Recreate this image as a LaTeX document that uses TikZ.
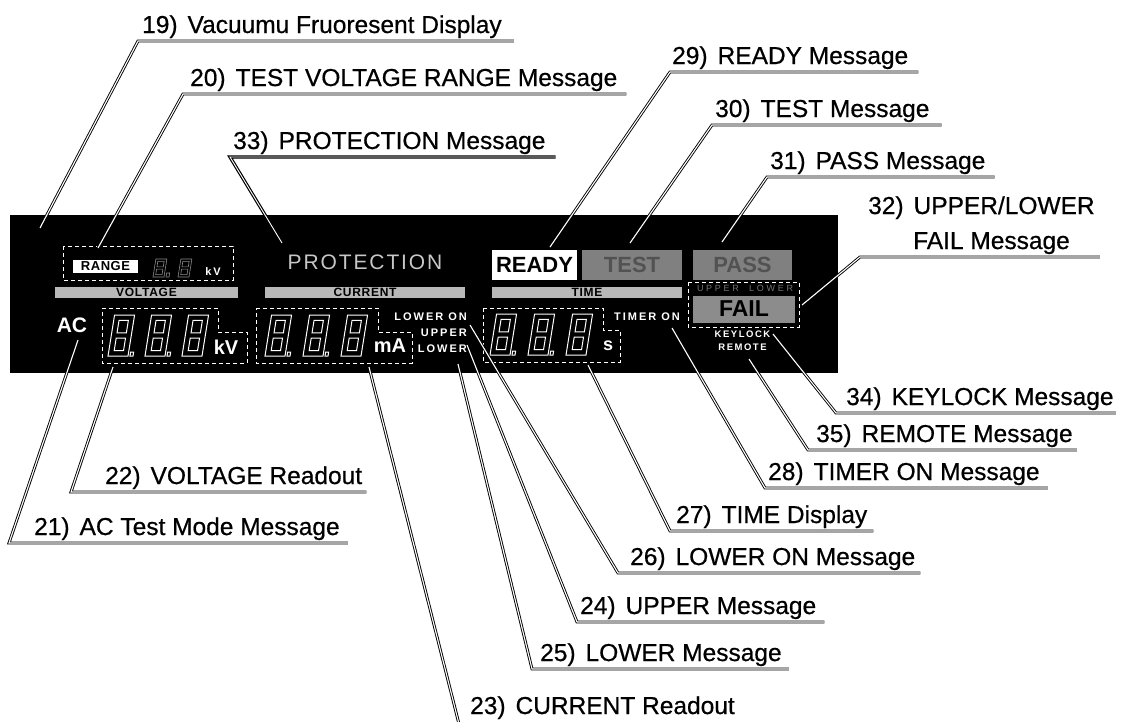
\documentclass[tikz,border=0pt]{standalone}
\usepackage{fontspec}
\setmainfont{Liberation Sans}

% outlined 7-segment "8": x, bottom y, width, height, decimal point (1/0)
\newcommand{\vfddigit}[5]{%
  \begin{scope}[shift={(#1,#2)}, xslant=0.16]
    \pgfmathsetmacro{\segw}{#3}
    \pgfmathsetmacro{\segh}{#4}
    \pgfmathsetmacro{\segt}{#4*0.13}
    \draw[seg] (0,0) -- (\segw,0) -- (\segw,-\segh) -- (0,-\segh) -- cycle;
    \draw[seg] (\segt,-\segt) -- (\segw-\segt,-\segt) -- (\segw-\segt,-\segh/2+\segt/2) -- (\segt,-\segh/2+\segt/2) -- cycle;
    \draw[seg] (\segt,-\segh/2-\segt/2) -- (\segw-\segt,-\segh/2-\segt/2) -- (\segw-\segt,-\segh+\segt) -- (\segt,-\segh+\segt) -- cycle;
    \ifnum#5=1 \draw[seg] (\segw+2,0) -- (\segw+5,0) -- (\segw+5,-4) -- (\segw+2,-4) -- cycle;\fi
  \end{scope}}

\begin{document}
\begin{tikzpicture}[x=1pt, y=-1pt]
  % Styles
  \tikzset{
    leader/.style={draw=black, double=white, double distance=1.1pt, line width=0.9pt},
    leaderbold/.style={draw=black, double=white, double distance=0.9pt, line width=1.2pt},
    note/.style={font=\fontsize{24.5}{28}\selectfont\addfontfeature{FakeBold=0.6}, inner sep=0pt, anchor=base west},
    dashbox/.style={draw=white, line width=1pt, dash pattern=on 4pt off 3pt},
    seg/.style={draw=white, line width=1pt},
    vfdbar/.style={fill=black!28, inner sep=0pt, minimum height=11pt, text=black, font=\bfseries\fontsize{12}{12}\selectfont\addfontfeature{LetterSpace=6}},
    vfdsmall/.style={text=white, inner sep=0pt, font=\bfseries\fontsize{11}{11}\selectfont\addfontfeature{LetterSpace=18}},
    vfdtiny/.style={text=white, inner sep=0pt, font=\bfseries\fontsize{9.5}{9.5}\selectfont\addfontfeature{LetterSpace=16}},
    vfdunit/.style={text=white, inner sep=0pt, font=\bfseries\fontsize{20}{20}\selectfont},
    vfdmsg/.style={inner sep=0pt, minimum height=30pt, font=\bfseries\fontsize{22}{22}\selectfont},
  }
  \useasboundingbox (0,0) rectangle (1123,721);

  % Display panel
  \node[fill=black, inner sep=0pt, minimum width=828pt, minimum height=158pt, anchor=north west] (panel) at (10,215) {};

  % Range
  \draw[dashbox] (63,246) rectangle (233,280);
  \node[fill=white, text=black, inner sep=0pt, minimum width=65pt, minimum height=13pt, font=\bfseries\fontsize{13}{13}\selectfont\addfontfeature{LetterSpace=4}] (range) at (105.5,266) {RANGE};
  \begin{scope}[seg/.style={draw=black!45, line width=0.6pt}]
    \vfddigit{153}{277}{11}{18}{1}
    \vfddigit{178}{277}{11}{18}{0}
  \end{scope}
  \node[vfdsmall] (rangekv) at (213,272) {kV};

  % Voltage
  \node[vfdbar, minimum width=183pt] (voltbar) at (146.5,292) {VOLTAGE};
  \node[text=white, inner sep=0pt, font=\bfseries\fontsize{21}{21}\selectfont] (ac) at (72,325) {AC};
  \draw[dashbox] (102,308) -- (218,308) -- (218,332) -- (247,332) -- (247,363) -- (102,363) -- cycle;
  \foreach \px/\hasdot in {108/1, 145/1, 182/0} {\vfddigit{\px}{356}{20}{41}{\hasdot}}
  \node[vfdunit] (voltkv) at (226,347) {kV};

  % Protection
  \node[text=black!22, inner sep=0pt, font=\fontsize{21}{21}\selectfont\addfontfeature{LetterSpace=9}] (prot) at (365,262) {PROTECTION};

  % Current
  \node[vfdbar, minimum width=200pt] (curbar) at (365,292) {CURRENT};
  \draw[dashbox] (256,308) -- (378,308) -- (378,332) -- (412,332) -- (412,363) -- (256,363) -- cycle;
  \foreach \px/\hasdot in {265/1, 303/1, 341/0} {\vfddigit{\px}{356}{20}{41}{\hasdot}}
  \node[vfdunit] (curma) at (390,346) {mA};
  \node[vfdsmall, anchor=east] (loweron) at (467,317) {LOWER ON};
  \node[vfdsmall, anchor=east] (upper) at (467,333) {UPPER};
  \node[vfdsmall, anchor=east] (lower) at (467,349) {LOWER};

  % Ready / test / pass
  \node[vfdmsg, fill=white, text=black, minimum width=85pt] (ready) at (534.5,265) {READY};
  \node[vfdmsg, fill=black!50, text=black!68, minimum width=100pt] (test) at (632,265) {TEST};
  \node[vfdmsg, fill=black!50, text=black!68, minimum width=99pt] (pass) at (742.5,265) {PASS};

  % Time
  \node[vfdbar, minimum width=190pt] (timebar) at (587,292) {TIME};
  \draw[dashbox] (483,308) -- (603,308) -- (603,330) -- (620,330) -- (620,362) -- (483,362) -- cycle;
  \foreach \px/\hasdot in {490/1, 528/1, 566/0} {\vfddigit{\px}{355}{20}{41}{\hasdot}}
  \node[vfdunit, font=\bfseries\fontsize{18}{18}\selectfont] (sec) at (608,346) {s};
  \node[vfdsmall] (timeron) at (647,317) {TIMER ON};

  % Fail
  \draw[dashbox] (688,282) rectangle (799,327);
  \node[text=black!55, inner sep=0pt, font=\fontsize{9}{9}\selectfont\addfontfeature{LetterSpace=30}] (upperlower) at (745,288) {UPPER\ \ LOWER};
  \node[vfdmsg, fill=black!45, text=black, minimum width=102pt, minimum height=27pt, font=\bfseries\fontsize{23}{23}\selectfont] (fail) at (744,309) {FAIL};
  \node[vfdtiny] (keylock) at (742.5,334) {KEYLOCK};
  \node[vfdtiny] (remote) at (742.5,347) {REMOTE};

  % Pointed spots
  \coordinate (p19) at (40,228);
  \coordinate (p20) at (98,248);
  \coordinate (p33) at (282,243);
  \coordinate (p29) at (550,247);
  \coordinate (p30) at (630,243);
  \coordinate (p31) at (722,242);
  \coordinate (p32) at (802,305);
  \coordinate (p34) at (773,334);
  \coordinate (p35) at (749,359);
  \coordinate (p28) at (672,328);
  \coordinate (p27) at (588,365);
  \coordinate (p26) at (470,325);
  \coordinate (p24) at (467,345);
  \coordinate (p25) at (458,364);
  \coordinate (p23) at (369,367);
  \coordinate (p22) at (113,367);
  \coordinate (p21) at (78,340);

  % Callouts above
  \coordinate (k19) at (138,41);
  \node[note] (t19) at (142,33) {19)\hspace{10pt}Vacuumu Fruoresent Display};
  \coordinate (k20) at (183,94);
  \node[note] (t20) at (190,86) {20)\hspace{10pt}TEST VOLTAGE RANGE Message};
  \coordinate (k33) at (230,157);
  \node[note] (t33) at (233,149) {33)\hspace{10pt}PROTECTION Message};
  \coordinate (k29) at (670,72);
  \node[note] (t29) at (672,64) {29)\hspace{10pt}READY Message};
  \coordinate (k30) at (712,125);
  \node[note] (t30) at (715,117) {30)\hspace{10pt}TEST Message};
  \coordinate (k31) at (767,177);
  \node[note] (t31) at (770,169) {31)\hspace{10pt}PASS Message};
  \coordinate (k32) at (860,257);
  \node[note] (t32) at (868,214) {32)\hspace{10pt}UPPER/LOWER};
  \node[note] (t32b) at (913,249) {FAIL Message};

  % Callouts below
  \coordinate (k34) at (836,413);
  \node[note] (t34) at (846,405) {34)\hspace{10pt}KEYLOCK Message};
  \coordinate (k35) at (808,450);
  \node[note] (t35) at (816,442) {35)\hspace{10pt}REMOTE Message};
  \coordinate (k28) at (765,488);
  \node[note] (t28) at (768,480) {28)\hspace{10pt}TIMER ON Message};
  \coordinate (k27) at (670,531);
  \node[note] (t27) at (676,523) {27)\hspace{10pt}TIME Display};
  \coordinate (k26) at (618,573);
  \node[note] (t26) at (630,565) {26)\hspace{10pt}LOWER ON Message};
  \coordinate (k24) at (577,622);
  \node[note] (t24) at (580,614) {24)\hspace{10pt}UPPER Message};
  \coordinate (k25) at (532,669);
  \node[note] (t25) at (540,661) {25)\hspace{10pt}LOWER Message};
  \coordinate (k23) at (459,724);
  \node[note] (t23) at (470,714) {23)\hspace{10pt}CURRENT Readout};
  \coordinate (k22) at (71,492);
  \node[note] (t22) at (105,484) {22)\hspace{10pt}VOLTAGE Readout};
  \coordinate (k21) at (9,543);
  \node[note] (t21) at (34,535) {21)\hspace{10pt}AC Test Mode Message};

  % Leader lines
  \draw[leader] (p19) -- (k19) -- (t19.east |- k19) -- ++(12,0);
  \draw[leader] (p20) -- (k20) -- (t20.east |- k20) -- ++(9,0);
  \draw[leaderbold] (p33) -- (k33) -- (t33.east |- k33) -- ++(10,0);
  \draw[leader] (p29) -- (k29) -- (t29.east |- k29) -- ++(10,0);
  \draw[leader] (p30) -- (k30) -- (t30.east |- k30) -- ++(12,0);
  \draw[leader] (p31) -- (k31) -- (t31.east |- k31) -- ++(9,0);
  \draw[leader] (p32) -- (k32) -- (t32.east |- k32) -- ++(5,0);
  \draw[leader] (p34) -- (k34) -- (t34.east |- k34) -- ++(2,0);
  \draw[leader] (p35) -- (k35) -- (t35.east |- k35) -- ++(4,0);
  \draw[leader] (p28) -- (k28) -- (t28.east |- k28) -- ++(8,0);
  \draw[leader] (p27) -- (k27) -- (t27.east |- k27) -- ++(6,0);
  \draw[leader] (p26) -- (k26) -- (t26.east |- k26) -- ++(5,0);
  \draw[leader] (p24) -- (k24) -- (t24.east |- k24) -- ++(8,0);
  \draw[leader] (p25) -- (k25) -- (t25.east |- k25) -- ++(7,0);
  \draw[leader] (p23) -- (k23) -- (t23.east |- k23);
  \draw[leader] (p22) -- (k22) -- (t22.east |- k22) -- ++(4,0);
  \draw[leader] (p21) -- (k21) -- (t21.east |- k21) -- ++(8,0);
\end{tikzpicture}
\end{document}
